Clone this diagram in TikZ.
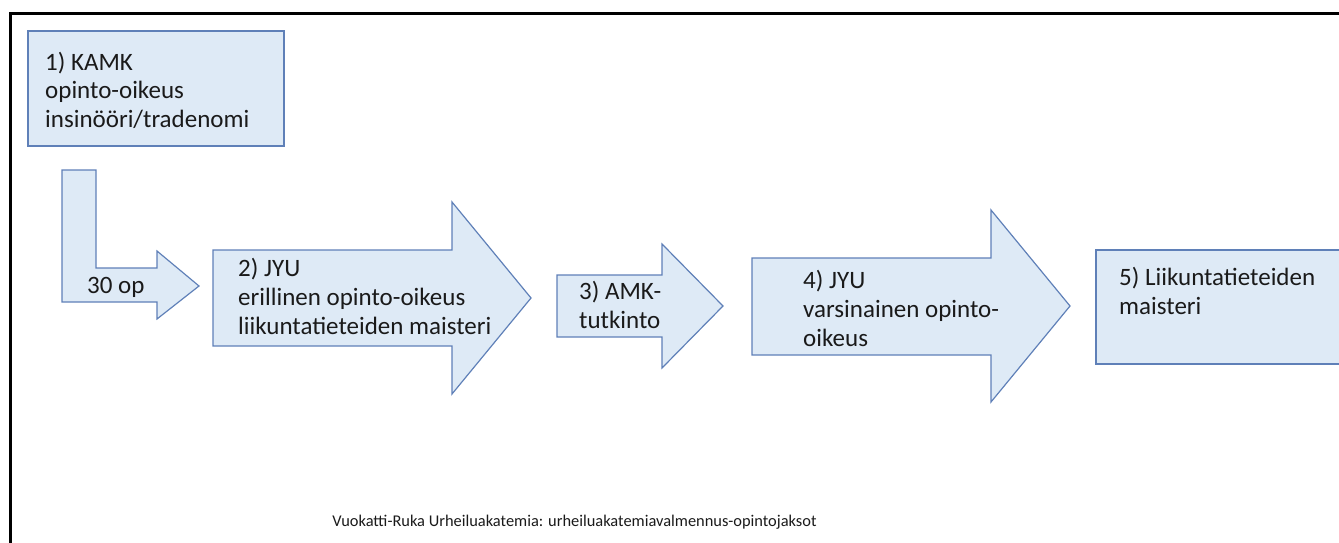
\documentclass[tikz,border=0pt]{standalone}
\usepackage{fontspec}
\setmainfont{Carlito}
\usepackage{tikz}
\usetikzlibrary{positioning}

\definecolor{stagefill}{HTML}{DEEAF6}
\definecolor{stageline}{HTML}{5F80B8}
\definecolor{stagetext}{HTML}{1A1A1A}

\tikzset{
  stage/.style={draw=stageline, fill=stagefill, line width=1.2pt, line join=miter},
  % base anchor sits on the last line of a multi-line label
  stagelabel/.style={anchor=base west, inner sep=0pt, align=left, text=stagetext,
                     font=\fontsize{25}{29}\selectfont},
  captionlabel/.style={anchor=base, inner sep=0pt, text=stagetext,
                       font=\fontsize{16.4}{20}\selectfont}
}

\begin{document}
\begin{tikzpicture}[x=1pt, y=-1pt]
  \useasboundingbox (0,0) rectangle (1339,543);

  % Frame (left and top only)
  \draw[line width=3pt] (10,543) -- (10,14) -- (1339,14);

  % 1) KAMK box
  \draw[stage] (28,31) rectangle (284,146);
  \node[stagelabel] (kamk) at (45,128) {1) KAMK\\opinto-oikeus\\insinööri/tradenomi};

  % Bent arrow 30 op
  \draw[stage] (62,170) -- (96,170) -- (96,268) -- (157,268) -- (157,251)
               -- (199,286) -- (157,319) -- (157,302) -- (62,302) -- cycle;
  \node[stagelabel] (op) at (87,293) {30 op};

  % 2) JYU erillinen
  \draw[stage] (213,250) -- (452,250) -- (452,202) -- (531,298)
               -- (452,394) -- (452,346) -- (213,346) -- cycle;
  \node[stagelabel] (jyuerill) at (238,334) {2) JYU\\erillinen opinto-oikeus\\liikuntatieteiden maisteri};

  % 3) AMK-tutkinto
  \draw[stage] (557,275) -- (662,275) -- (662,244) -- (723,306)
               -- (662,368) -- (662,337) -- (557,337) -- cycle;
  \node[stagelabel] (amk) at (579,328) {3) AMK-\\tutkinto};

  % 4) JYU varsinainen
  \draw[stage] (752,258) -- (991,258) -- (991,210) -- (1070,306)
               -- (991,402) -- (991,355) -- (752,355) -- cycle;
  \node[stagelabel] (jyuvars) at (803,346) {4) JYU\\varsinainen opinto-\\oikeus};

  % 5) Liikuntatieteiden maisteri (open at page edge)
  \fill[stagefill] (1096,250) rectangle (1339,364);
  \draw[stage] (1339,250) -- (1096,250) -- (1096,364) -- (1339,364);
  \node[stagelabel] (maisteri) at (1119,314) {5) Liikuntatieteiden\\maisteri};

  % Caption
  \node[captionlabel] (caption) at (574.5,526) {Vuokatti-Ruka Urheiluakatemia: urheiluakatemiavalmennus-opintojaksot};
\end{tikzpicture}
\end{document}
